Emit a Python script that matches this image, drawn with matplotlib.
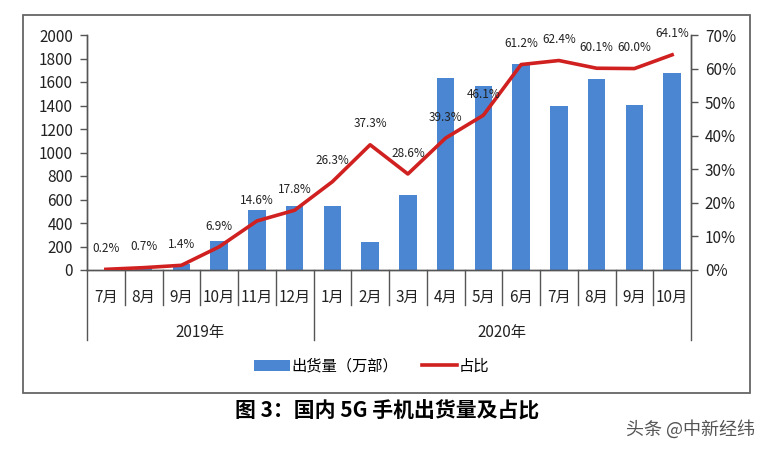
import numpy as np
import matplotlib.pyplot as plt
from matplotlib.patches import Rectangle
from matplotlib.lines import Line2D
from matplotlib.patches import Patch
import matplotlib.transforms as mtransforms

plt.rcParams['font.family'] = ['Noto Sans CJK SC', 'DejaVu Sans']

months = ['7月', '8月', '9月', '10月', '11月', '12月',
          '1月', '2月', '3月', '4月', '5月', '6月', '7月', '8月', '9月', '10月']
years = ['2019年', '2020年']
year_counts = [6, 10]
shipments = [3, 5, 50, 249, 507, 543, 546, 238, 635, 1638, 1568, 1751, 1395, 1628, 1401, 1680]
share = [0.2, 0.7, 1.4, 6.9, 14.6, 17.8, 26.3, 37.3, 28.6, 39.3, 46.1, 61.2, 62.4, 60.1, 60.0, 64.1]
share_labels = ['0.2%', '0.7%', '1.4%', '6.9%', '14.6%', '17.8%', '26.3%', '37.3%', '28.6%',
                '39.3%', '46.1%', '61.2%', '62.4%', '60.1%', '60.0%', '64.1%']

blue = '#4a86d1'
red = '#d02020'
axis_col = '#555555'

fig = plt.figure(figsize=(7.76, 4.5), dpi=100)
ax = fig.add_axes([87/776, 1-270/450, (691-87)/776, (270-35)/450])
ax2 = ax.twinx()

x = np.arange(len(months))
ax.bar(x, shipments, width=0.46, color=blue, zorder=2)
ax2.plot(x, share, color=red, lw=2.6, zorder=3)
for xi, v, s in zip(x, share, share_labels):
    ax2.annotate(s, (xi, v), xytext=(0, 15), textcoords='offset points',
                 ha='center', va='center', fontsize=8.5, color='#222222')

ax.set_xlim(-0.5, len(months)-0.5)
ax.set_ylim(0, 2000)
ax.set_yticks(np.arange(0, 2001, 200))
ax2.set_ylim(0, 70)
ax2.set_yticks(np.arange(0, 71, 10))
ax2.set_yticklabels([f'{v}%' for v in range(0, 71, 10)])

for a in (ax, ax2):
    a.spines['top'].set_visible(False)
    for sp in ('left', 'right', 'bottom'):
        a.spines[sp].set_color(axis_col)
        a.spines[sp].set_linewidth(1.0)
    a.tick_params(axis='y', length=5, width=1, color=axis_col, labelsize=11,
                  labelcolor='#222222', pad=5)

# month labels and category separators
ax.set_xticks([])
trans = mtransforms.blended_transform_factory(ax.transData, ax.transAxes)
for xi, m in zip(x, months):
    ax.text(xi, -0.115, m, transform=trans, ha='center', va='center',
            fontsize=11, color='#222222')
bounds = np.arange(len(months)+1) - 0.5
year_bounds = [-0.5, -0.5 + year_counts[0], len(months) - 0.5]
for b in bounds:
    low = -0.298 if b in year_bounds else -0.149
    ax.plot([b, b], [0, low], transform=trans, color=axis_col, lw=1.0, clip_on=False)
start = -0.5
for yl, n in zip(years, year_counts):
    ax.text(start + n/2, -0.265, yl, transform=trans, ha='center', va='center',
            fontsize=11, color='#222222')
    start += n

# legend
handles = [Patch(facecolor=blue, edgecolor='none'),
           Line2D([0], [0], color=red, lw=2.6)]
fig.legend(handles, ['出货量（万部）', '占比'], loc='center',
           bbox_to_anchor=(372/776, 1-366/450), ncol=2, frameon=False,
           fontsize=11, handlelength=2.3, handleheight=0.7, columnspacing=1.6,
           handletextpad=0.1)

# outer frame
fig.patches.append(Rectangle((23/776, 1-393/450), (750-23)/776, (393-15)/450,
                             transform=fig.transFigure, fill=False,
                             edgecolor='#666666', lw=1.3))

fig.text(387/776, 1-411/450, '图 3：国内 5G 手机出货量及占比', ha='center', va='center',
         fontsize=15, fontweight='bold', color='black')
fig.text(690/776, 1-429/450, '头条 @中新经纬', ha='center', va='center',
         fontsize=13, color='#555555')

fig.savefig('out.png', dpi=100)
